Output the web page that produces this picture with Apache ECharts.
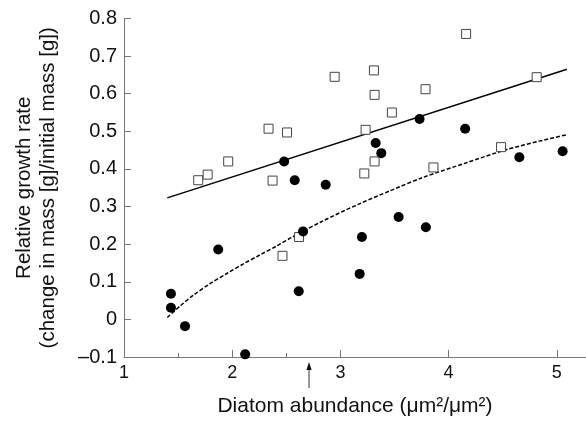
<!DOCTYPE html>
<html>
<head>
<meta charset="utf-8">
<script src="https://cdn.jsdelivr.net/npm/echarts@6/dist/echarts.min.js"></script>
<style>
html,body{margin:0;padding:0;background:#fff;}
#c{width:586px;height:422px;}
</style>
</head>
<body>
<div id="c"></div>
<script>
// ---- data ----
const squareX = [1.686, 1.773, 1.963, 2.336, 2.507, 2.373, 2.465, 2.618, 2.947, 3.233, 3.221, 3.310, 3.316, 3.316, 3.476, 3.787, 3.860, 4.162, 4.485, 4.814];
const squareY = [0.370, 0.385, 0.420, 0.507, 0.497, 0.369, 0.169, 0.219, 0.645, 0.504, 0.388, 0.662, 0.597, 0.420, 0.550, 0.612, 0.404, 0.759, 0.458, 0.644];

const circleX = [1.434, 1.434, 1.564, 1.871, 2.120, 2.480, 2.578, 2.615, 2.655, 2.864, 3.178, 3.199, 3.326, 3.378, 3.538, 3.732, 3.790, 4.153, 4.654, 5.054];
const circleY = [0.068, 0.031, -0.018, 0.186, -0.093, 0.420, 0.370, 0.075, 0.234, 0.358, 0.121, 0.219, 0.469, 0.442, 0.272, 0.533, 0.245, 0.507, 0.431, 0.447];

const solidLineX = [1.40, 5.094];
const solidLineY = [0.323, 0.665];

const dashedX = [1.40, 1.52, 1.64, 1.79, 1.95, 2.10, 2.26, 2.41, 2.55, 2.84, 3.15, 3.46, 3.76, 4.16, 4.53, 4.84, 5.094];
const dashedY = [0.005, 0.036, 0.064, 0.094, 0.122, 0.147, 0.172, 0.195, 0.218, 0.262, 0.304, 0.342, 0.377, 0.416, 0.451, 0.474, 0.491];

const xTicks = [1, 2, 3, 4, 5];
const xMinorTicks = [1.5, 2.5];
const arrowX = 2.71;

const xTitle = 'Diatom abundance (\u03bcm\u00b2/\u03bcm\u00b2)';
const yTitle = 'Relative growth rate\n(change in mass [g]/initial mass [g])';

// ---- chart ----
const zip = (xs, ys) => xs.map((x, i) => [x, ys[i]]);
const FONT = 'Liberation Sans, Arial, Helvetica, sans-serif';
const AXIS_COLOR = '#777';

const chart = echarts.init(document.getElementById('c'), null, {renderer: 'canvas'});
chart.setOption({
  animation: false,
  backgroundColor: '#fff',
  grid: {left: 124, right: 0, top: 18.5, bottom: 64, containLabel: false},
  xAxis: [{
    type: 'value', min: 1, max: 5.27, interval: 1,
    axisLine: {show: true, onZero: false, lineStyle: {color: AXIS_COLOR, width: 1}},
    axisTick: {show: true, inside: true, length: 7, customValues: xTicks.slice(1), lineStyle: {color: AXIS_COLOR}},
    axisLabel: {customValues: xTicks, color: '#111', fontSize: 18, fontFamily: FONT, margin: 7},
    splitLine: {show: false},
    name: xTitle, nameLocation: 'middle', nameGap: 39,
    nameTextStyle: {color: '#111', fontSize: 21, fontFamily: FONT}
  }, {
    type: 'value', min: 1, max: 5.27, position: 'bottom', gridIndex: 0,
    axisLine: {show: false, onZero: false},
    axisTick: {show: true, inside: true, length: 4, customValues: xMinorTicks, lineStyle: {color: AXIS_COLOR}},
    axisLabel: {show: false},
    splitLine: {show: false}
  }],
  yAxis: {
    type: 'value', min: -0.1, max: 0.8, interval: 0.1,
    axisLine: {show: true, onZero: false, lineStyle: {color: AXIS_COLOR, width: 1}},
    axisTick: {show: true, inside: true, length: 7, lineStyle: {color: AXIS_COLOR}},
    axisLabel: {
      color: '#111', fontSize: 20, fontFamily: FONT, margin: 7,
      formatter: v => {
        const r = Math.round(v * 10) / 10;
        if (r === 0) return '0';
        return r.toFixed(1).replace('-', '\u2013');
      }
    },
    splitLine: {show: false},
    name: yTitle, nameLocation: 'middle', nameRotate: 90, nameGap: 64,
    nameTextStyle: {color: '#111', fontSize: 20.5, lineHeight: 24, fontFamily: FONT, align: 'center'}
  },
  series: [
    {
      type: 'line', data: zip(solidLineX, solidLineY), showSymbol: false, symbol: 'none',
      lineStyle: {color: '#000', width: 1.5}, z: 2, silent: true
    },
    {
      type: 'line', data: zip(dashedX, dashedY), smooth: 0.3, showSymbol: false, symbol: 'none',
      lineStyle: {color: '#000', width: 1.5, type: [4, 2]}, z: 2, silent: true
    },
    {
      type: 'scatter', data: zip(squareX, squareY), symbol: 'rect', symbolSize: 9,
      itemStyle: {color: '#fff', borderColor: '#444', borderWidth: 1, opacity: 1}, z: 3
    },
    {
      type: 'scatter', data: zip(circleX, circleY), symbol: 'circle', symbolSize: 10,
      itemStyle: {color: '#000', opacity: 1}, z: 4
    }
  ]
});

// arrow under the x axis at arrowX
const p = chart.convertToPixel({xAxisIndex: 0, yAxisIndex: 0}, [arrowX, -0.1]);
const ax = p[0], ay = p[1];
chart.setOption({
  graphic: [
    {type: 'line', shape: {x1: ax, y1: ay + 12, x2: ax, y2: ay + 31}, style: {stroke: '#333', lineWidth: 1}},
    {type: 'polygon', shape: {points: [[ax, ay + 5], [ax - 2.6, ay + 13], [ax + 2.6, ay + 13]]}, style: {fill: '#111'}}
  ]
});
</script>
</body>
</html>
